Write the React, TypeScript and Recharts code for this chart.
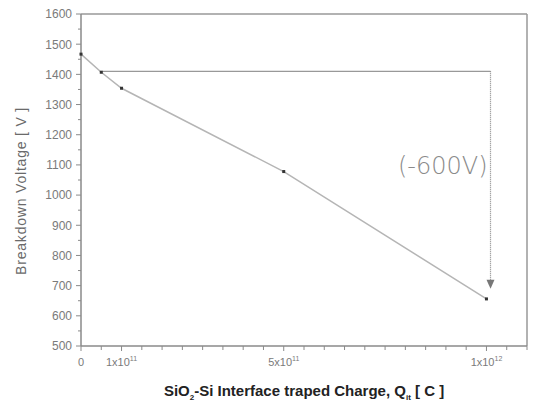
import React from "react";
import {
  LineChart,
  Line,
  XAxis,
  YAxis,
  ReferenceLine,
  ReferenceDot,
  Label,
} from "recharts";

// measured points: interface trapped charge [C] vs breakdown voltage [V]
const charges = [0, 0.5e11, 1e11, 5e11, 1e12];
const voltages = [1467, 1407, 1354, 1078, 656];

const xTicks = [
  0, 0.5e11, 1e11, 1.5e11, 2e11, 2.5e11, 3e11, 3.5e11, 4e11, 4.5e11, 5e11,
  5.5e11, 6e11, 6.5e11, 7e11, 7.5e11, 8e11, 8.5e11, 9e11, 9.5e11, 1e12,
  1.05e12, 1.1e12,
];
const xLabels = [
  { value: 0, base: "0", exp: "" },
  { value: 1e11, base: "1x10", exp: "11" },
  { value: 5e11, base: "5x10", exp: "11" },
  { value: 1e12, base: "1x10", exp: "12" },
];
const yTicks = [
  500, 550, 600, 650, 700, 750, 800, 850, 900, 950, 1000, 1050, 1100, 1150,
  1200, 1250, 1300, 1350, 1400, 1450, 1500, 1550, 1600,
];

// annotation: drop from the initial level to the last point
const dropLevel = 1410;
const dropX = 1.01e12;
const arrowTip = 690;
const dropText = "(-600V)";

const data = charges.map((q, i) => ({ q, v: voltages[i] }));

const axisColor = "#8a8a8a";
const textColor = "#7a7a7a";

const XTick = (props: any) => {
  const { x, y, payload } = props;
  const lab = xLabels.find((l) => l.value === payload.value);
  return (
    <g>
      <line x1={x} x2={x} y1={y} y2={y + (lab ? 5 : 4)} stroke={axisColor} strokeWidth={1} />
      {lab && (
        <text x={x} y={y + 20} textAnchor="middle" fontSize={11} fill={textColor} fontFamily="Liberation Sans, Arial, sans-serif">
          {lab.base}
          {lab.exp && (
            <tspan dy={-5} fontSize={7}>
              {lab.exp}
            </tspan>
          )}
        </text>
      )}
    </g>
  );
};

const YTick = (props: any) => {
  const { x, y, payload } = props;
  const major = payload.value % 100 === 0;
  return (
    <g>
      <line x1={x - (major ? 5 : 3)} x2={x} y1={y} y2={y} stroke={axisColor} strokeWidth={1} />
      {major && (
        <text x={x - 9} y={y} dy="0.36em" textAnchor="end" fontSize={12} fill={textColor} fontFamily="Liberation Sans, Arial, sans-serif">
          {payload.value}
        </text>
      )}
    </g>
  );
};

const renderDot = (props: any) => {
  const { cx, cy, index } = props;
  return <rect key={`dot-${index}`} x={cx - 1.5} y={cy - 1.5} width={3} height={3} fill="#333" />;
};

export default function App() {
  return (
    <div style={{ position: "absolute", left: 0, top: 0, background: "#fff" }}>
      <LineChart
        width={535}
        height={403}
        data={data}
        margin={{ top: 14, right: 8, bottom: 0, left: 0 }}
      >
        <XAxis
          dataKey="q"
          type="number"
          domain={[0, 1.1e12]}
          ticks={xTicks}
          interval={0}
          tick={<XTick />}
          tickLine={false}
          tickSize={0}
          tickMargin={0}
          height={57}
          stroke={axisColor}
          strokeWidth={1.5}
        >
          <Label
            content={({ viewBox }: any) => (
              <text
                x={viewBox.x + viewBox.width / 2}
                y={viewBox.y + 50}
                textAnchor="middle"
                fontSize={15}
                fontWeight="bold"
                fill="#222"
                fontFamily="Liberation Sans, Arial, sans-serif"
              >
                SiO
                <tspan dy={4} fontSize={8}>2</tspan>
                <tspan dy={-4}>-Si Interface traped Charge, Q</tspan>
                <tspan dy={4} fontSize={8}>it</tspan>
                <tspan dy={-4}> [ C ]</tspan>
              </text>
            )}
          />
        </XAxis>
        <YAxis
          type="number"
          domain={[500, 1600]}
          ticks={yTicks}
          interval={0}
          tick={<YTick />}
          tickLine={false}
          tickSize={0}
          tickMargin={0}
          width={81}
          stroke={axisColor}
          strokeWidth={1.5}
        >
          <Label
            content={({ viewBox }: any) => {
              const cx = 21;
              const cy = viewBox.y + viewBox.height / 2 + 11;
              return (
                <text
                  x={cx}
                  y={cy}
                  transform={`rotate(-90, ${cx}, ${cy})`}
                  textAnchor="middle"
                  dominantBaseline="central"
                  fontSize={14}
                  letterSpacing={0.8}
                  fill="#6a6a6a"
                  fontFamily="Liberation Sans, Arial, sans-serif"
                >
                  Breakdown Voltage [ V ]
                </text>
              );
            }}
          />
        </YAxis>

        {/* frame */}
        <ReferenceLine y={1600} stroke="#999" strokeWidth={1.5} />
        <ReferenceLine x={1.1e12} stroke="#999" strokeWidth={1.5} />

        <ReferenceLine
          segment={[
            { x: charges[1], y: dropLevel },
            { x: dropX, y: dropLevel },
          ]}
          stroke="#999"
          strokeWidth={1.2}
        />
        <ReferenceLine
          segment={[
            { x: dropX, y: dropLevel },
            { x: dropX, y: arrowTip + 20 },
          ]}
          stroke="#888"
          strokeWidth={1.2}
          strokeDasharray="1 1"
        />
        <ReferenceDot
          x={dropX}
          y={arrowTip}
          shape={(p: any) => (
            <path
              d={`M ${p.cx - 4} ${p.cy - 9} L ${p.cx + 4} ${p.cy - 9} L ${p.cx} ${p.cy} Z`}
              fill="#777"
            />
          )}
        />
        <ReferenceDot
          x={dropX}
          y={1100}
          shape={(p: any) => (
            <text
              x={p.cx - 3}
              y={p.cy}
              dy="0.36em"
              textAnchor="end"
              fontSize={24}
              fill="#8a8a8a"
              fontFamily="DejaVu Sans, sans-serif"
              fontWeight={200}
            >
              {dropText}
            </text>
          )}
        />

        <Line
          type="linear"
          dataKey="v"
          stroke="#b5b5b5"
          strokeWidth={1.5}
          dot={renderDot}
          isAnimationActive={false}
        />
      </LineChart>
    </div>
  );
}
